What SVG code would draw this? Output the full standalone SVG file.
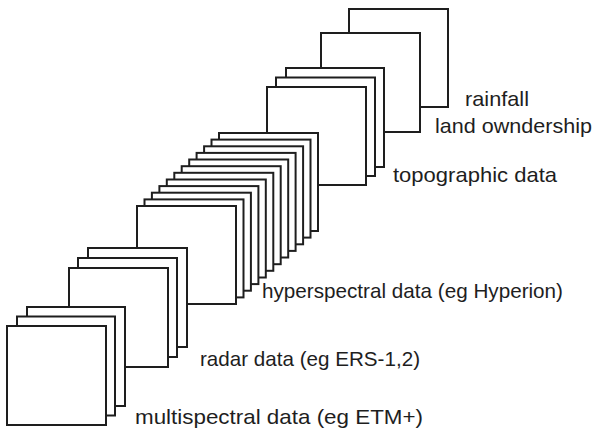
<svg xmlns="http://www.w3.org/2000/svg" width="597" height="431" viewBox="0 0 597 431">
  <style>
    .layer { fill: #ffffff; stroke: #1e1e1e; stroke-width: 2; }
    .label { font-family: "Liberation Sans", Arial, Helvetica, sans-serif; font-size: 21px; fill: #1e1e1e; }
  </style>
  <rect width="597" height="431" fill="#ffffff"/>

  <!-- stacks are painted back to front so each white sheet hides the one behind -->
  <g id="rainfall">
    <rect class="layer" x="349" y="9" width="99" height="98"/>
    <text class="label" x="465" y="106" textLength="64" lengthAdjust="spacingAndGlyphs">rainfall</text>
  </g>

  <g id="land-ownership">
    <rect class="layer" x="321" y="33" width="99" height="99"/>
    <text class="label" x="435" y="133" textLength="157" lengthAdjust="spacingAndGlyphs">land owndership</text>
  </g>

  <g id="topographic">
    <rect class="layer" x="286" y="68" width="98" height="99"/>
    <rect class="layer" x="276" y="77.5" width="99" height="98.5"/>
    <rect class="layer" x="267" y="87" width="99" height="98"/>
    <text class="label" x="393" y="182" textLength="164" lengthAdjust="spacingAndGlyphs">topographic data</text>
  </g>

  <g id="hyperspectral">
    <rect class="layer" x="219" y="133" width="99" height="98"/>
    <rect class="layer" x="211.5" y="139.6" width="99" height="98"/>
    <rect class="layer" x="204.1" y="146.3" width="99" height="98"/>
    <rect class="layer" x="196.6" y="152.9" width="99" height="98"/>
    <rect class="layer" x="189.2" y="159.5" width="99" height="98"/>
    <rect class="layer" x="181.7" y="166.2" width="99" height="98"/>
    <rect class="layer" x="174.3" y="172.8" width="99" height="98"/>
    <rect class="layer" x="166.8" y="179.5" width="99" height="98"/>
    <rect class="layer" x="159.4" y="186.1" width="99" height="98"/>
    <rect class="layer" x="151.9" y="192.7" width="99" height="98"/>
    <rect class="layer" x="144.5" y="199.4" width="99" height="98"/>
    <rect class="layer" x="137" y="206" width="99" height="98"/>
    <text class="label" x="262" y="298" textLength="301" lengthAdjust="spacingAndGlyphs">hyperspectral data (eg Hyperion)</text>
  </g>

  <g id="radar">
    <rect class="layer" x="88" y="248" width="99" height="99"/>
    <rect class="layer" x="78" y="258" width="99" height="99"/>
    <rect class="layer" x="69" y="268" width="99" height="99"/>
    <text class="label" x="200" y="366" textLength="220" lengthAdjust="spacingAndGlyphs">radar data (eg ERS-1,2)</text>
  </g>

  <g id="multispectral">
    <rect class="layer" x="27" y="307" width="98" height="99"/>
    <rect class="layer" x="17" y="316.5" width="98" height="99"/>
    <rect class="layer" x="7" y="326" width="99" height="99"/>
    <text class="label" x="135" y="424" textLength="288" lengthAdjust="spacingAndGlyphs">multispectral data (eg ETM+)</text>
  </g>

  <g id="connectors"/>
</svg>
